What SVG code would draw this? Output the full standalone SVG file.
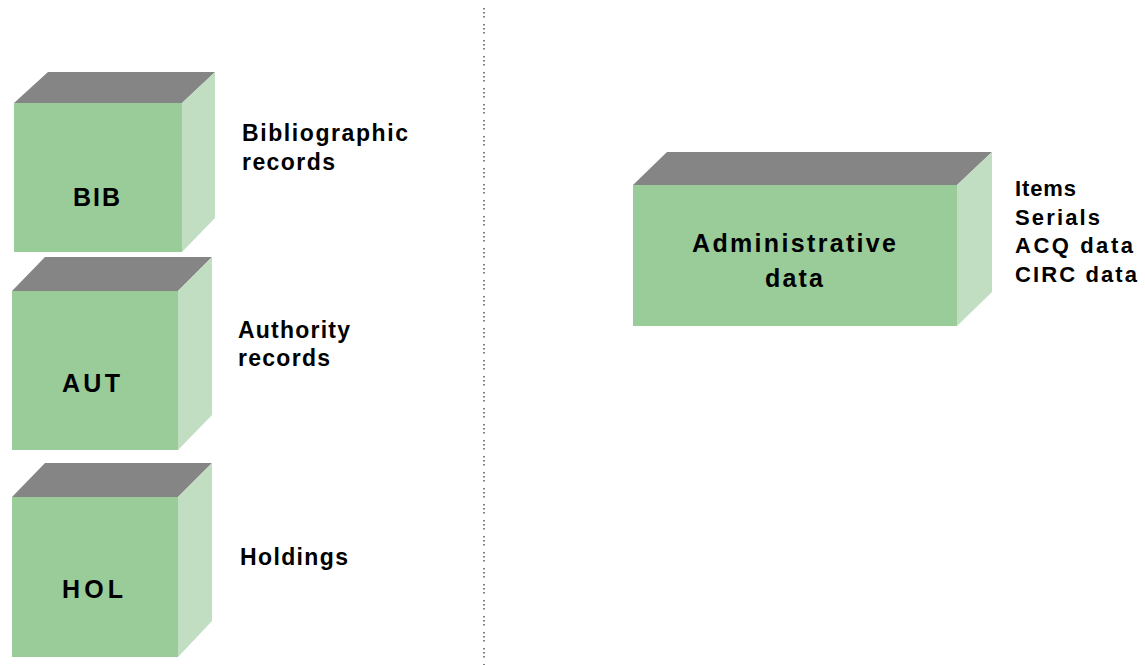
<svg xmlns="http://www.w3.org/2000/svg" width="1145" height="665" viewBox="0 0 1145 665">
<style>
.front{fill:#99cc99}
.top{fill:#858585}
.side{fill:#c2dec2}
.lbl{font-family:"Liberation Sans",Arial,sans-serif;font-weight:bold;font-size:25px;fill:#000}
.txt{font-family:"Liberation Sans",Arial,sans-serif;font-weight:bold;font-size:23px;fill:#000}
.lst{font-family:"Liberation Sans",Arial,sans-serif;font-weight:bold;font-size:22px;fill:#000}
</style>
<rect width="1145" height="665" fill="#ffffff"/>
<g id="connectors">
<line x1="484" y1="8" x2="484" y2="665" stroke="#555" stroke-width="1.5" stroke-dasharray="1.5 2.5 1.5 2.5 1.5 6.5"/>
</g>
<g id="bib">
<polygon class="top" points="14,103 48,72 215,72 182,103"/>
<polygon class="side" points="182,103 215,72 215,218 182,252"/>
<rect class="front" x="14" y="103" width="168" height="149"/>
<text class="lbl" x="73" y="206" textLength="47" lengthAdjust="spacing">BIB</text>
</g>
<g id="bib-label">
<text class="txt" x="242" y="141" textLength="166" lengthAdjust="spacing">Bibliographic</text>
<text class="txt" x="242" y="170" textLength="93" lengthAdjust="spacing">records</text>
</g>
<g id="aut">
<polygon class="top" points="12,291 45,257 212,257 178,291"/>
<polygon class="side" points="178,291 212,257 212,415 178,450"/>
<rect class="front" x="12" y="291" width="166" height="159"/>
<text class="lbl" x="62" y="392" textLength="58" lengthAdjust="spacing">AUT</text>
</g>
<g id="aut-label">
<text class="txt" x="238" y="338" textLength="112" lengthAdjust="spacing">Authority</text>
<text class="txt" x="238" y="366" textLength="92" lengthAdjust="spacing">records</text>
</g>
<g id="hol">
<polygon class="top" points="12,497 45,463 212,463 178,497"/>
<polygon class="side" points="178,497 212,463 212,621 178,657"/>
<rect class="front" x="12" y="497" width="166" height="160"/>
<text class="lbl" x="62" y="598" textLength="61" lengthAdjust="spacing">HOL</text>
</g>
<g id="hol-label">
<text class="txt" x="240" y="565" textLength="108" lengthAdjust="spacing">Holdings</text>
</g>
<g id="admin">
<polygon class="top" points="633,185 667,152 992,152 957,185"/>
<polygon class="side" points="957,185 992,152 992,292 957,326"/>
<rect class="front" x="633" y="185" width="324" height="141"/>
<text class="lbl" x="692" y="252" textLength="204" lengthAdjust="spacing">Administrative</text>
<text class="lbl" x="765" y="287" textLength="58" lengthAdjust="spacing">data</text>
</g>
<g id="admin-label">
<text class="lst" x="1015" y="196" textLength="61" lengthAdjust="spacing">Items</text>
<text class="lst" x="1015" y="225" textLength="85" lengthAdjust="spacing">Serials</text>
<text class="lst" x="1015" y="253" textLength="118" lengthAdjust="spacing">ACQ data</text>
<text class="lst" x="1015" y="282" textLength="122" lengthAdjust="spacing">CIRC data</text>
</g>
</svg>
